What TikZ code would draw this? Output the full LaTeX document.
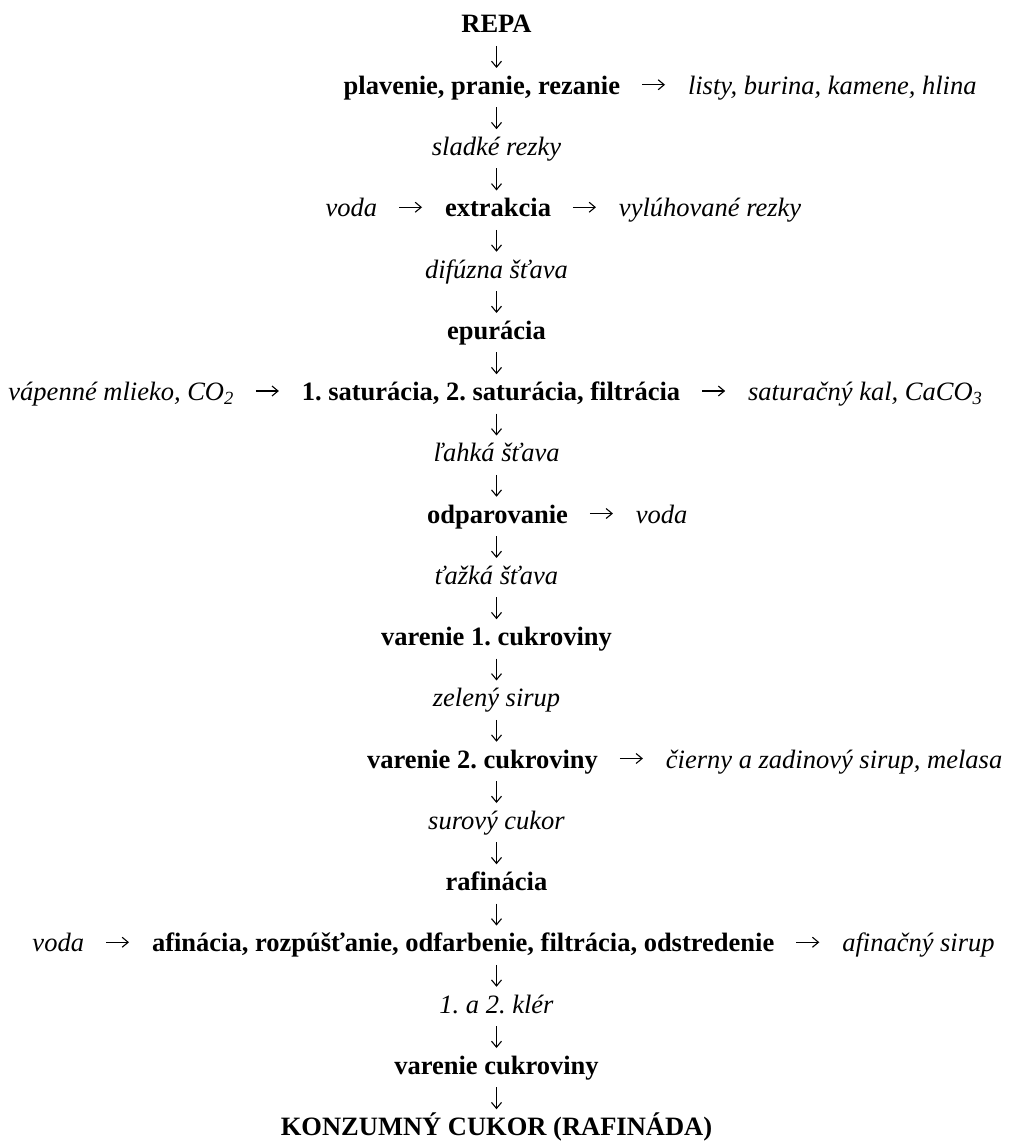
\documentclass[tikz,border=0pt]{standalone}
\usepackage{fontspec}
\setmainfont{Liberation Serif}
\usetikzlibrary{arrows.meta,calc}
\frenchspacing
\tikzset{
  every node/.style={inner sep=0pt, outer sep=0pt},
  mainbox/.style={font=\fontsize{26.5}{30}\selectfont\frenchspacing\bfseries},
  sidebox/.style={font=\fontsize{26.5}{30}\selectfont\frenchspacing\itshape},
  varr/.style={-{Straight Barb[length=6pt,width=10pt]}, line width=1.1pt, shorten <=13pt, shorten >=26.25pt},
  harr/.style={-{Straight Barb[length=6pt,width=10pt]}, line width=1.1pt, shorten <=22pt, shorten >=23pt},
}
\begin{document}
\begin{tikzpicture}[x=1pt,y=-1pt]
\path[fill=white,use as bounding box] (0,0) rectangle (1010,1142);
\coordinate (ax) at (496.5,0);
\node[mainbox, anchor=base] (n0) at (496.5,33) {REPA};
\node[mainbox, anchor=base east] (n1) at (620,94.25) {plavenie, pranie, rezanie};
\node[sidebox, anchor=base west] (s1) at ([xshift=68pt]n1.base east) {listy, burina, kamene, hlina};
\node[sidebox, anchor=base] (n2) at (496.5,155.5) {sladké rezky};
\node[mainbox, anchor=base] (n3) at (498,216.75) {extrakcia};
\node[sidebox, anchor=base east] (w3) at ([xshift=-68pt]n3.base west) {voda};
\node[sidebox, anchor=base west] (s3) at ([xshift=68pt]n3.base east) {vylúhované rezky};
\node[sidebox, anchor=base] (n4) at (496.5,278) {difúzna šťava};
\node[mainbox, anchor=base] (n5) at (496.5,339.25) {epurácia};
\node[mainbox, anchor=base] (n6) at (491,400.5) {1. saturácia, 2. saturácia, filtrácia};
\node[sidebox, anchor=base east] (w6) at ([xshift=-68pt]n6.base west) {vápenné mlieko, CO\textsubscript{2}};
\node[sidebox, anchor=base west] (s6) at ([xshift=68pt]n6.base east) {saturačný kal, CaCO\textsubscript{3}};
\node[sidebox, anchor=base] (n7) at (496.5,461.75) {ľahká šťava};
\node[mainbox, anchor=base] (n8) at (497.5,523) {odparovanie};
\node[sidebox, anchor=base west] (s8) at ([xshift=68pt]n8.base east) {voda};
\node[sidebox, anchor=base] (n9) at (496.5,584.25) {ťažká šťava};
\node[mainbox, anchor=base] (n10) at (496.5,645.5) {varenie 1. cukroviny};
\node[sidebox, anchor=base] (n11) at (496.5,706.75) {zelený sirup};
\node[mainbox, anchor=base west] (n12) at (367,768) {varenie 2. cukroviny};
\node[sidebox, anchor=base west] (s12) at ([xshift=68pt]n12.base east) {čierny a zadinový sirup, melasa};
\node[sidebox, anchor=base] (n13) at (496.5,829.25) {surový cukor};
\node[mainbox, anchor=base] (n14) at (496.5,890.5) {rafinácia};
\node[mainbox, anchor=base west] (n15) at (152,951.75) {afinácia, rozpúšťanie, odfarbenie, filtrácia, odstredenie};
\node[sidebox, anchor=base east] (w15) at ([xshift=-68pt]n15.base west) {voda};
\node[sidebox, anchor=base west] (s15) at ([xshift=68pt]n15.base east) {afinačný sirup};
\node[sidebox, anchor=base] (n16) at (496.5,1013) {1. a 2. klér};
\node[mainbox, anchor=base] (n17) at (496.5,1074.25) {varenie cukroviny};
\node[mainbox, anchor=base] (n18) at (496.5,1135.5) {KONZUMNÝ CUKOR (RAFINÁDA)};
\foreach \a/\b in {n0/n1,n1/n2,n2/n3,n3/n4,n4/n5,n5/n6,n6/n7,n7/n8,n8/n9,n9/n10,n10/n11,n11/n12,n12/n13,n13/n14,n14/n15,n15/n16,n16/n17,n17/n18}
  \draw[varr] (\a.base -| ax) -- (\b.base -| ax);
\foreach \a/\b in {n1/s1,w3/n3,n3/s3,w6/n6,n6/s6,n8/s8,n12/s12,w15/n15,n15/s15}
  \draw[harr] ([yshift=9.5pt]\a.base east) -- ([yshift=9.5pt]\b.base west);
\end{tikzpicture}
\end{document}
